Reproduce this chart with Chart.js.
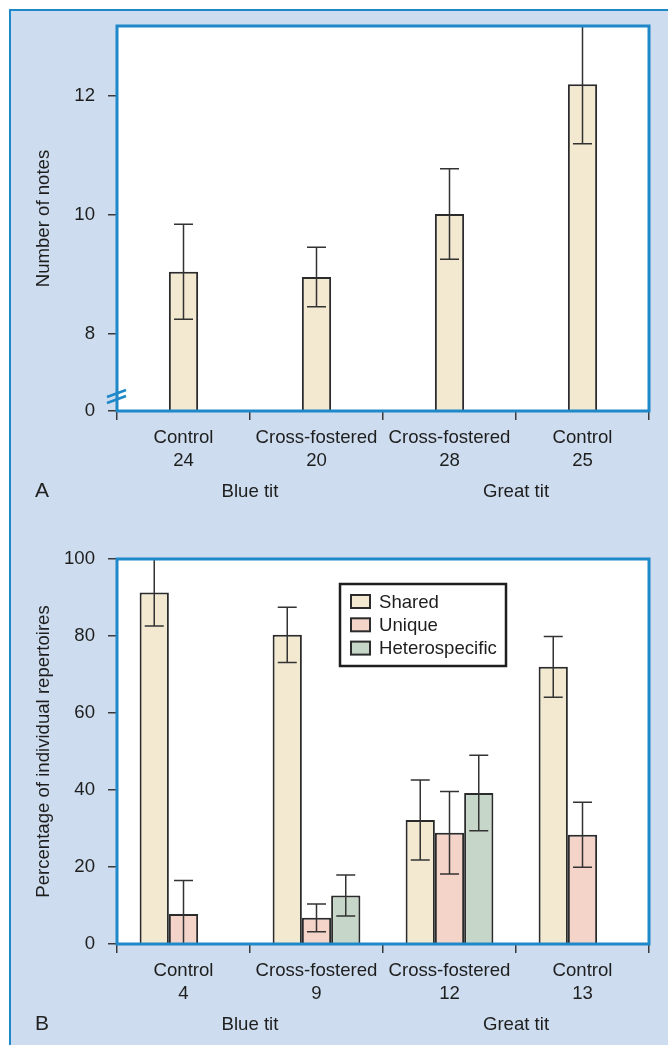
<!DOCTYPE html>
<html>
<head>
<meta charset="utf-8">
<script src="https://cdn.jsdelivr.net/npm/chart.js@4.4.0/dist/chart.umd.min.js"></script>
<style>
  html, body { margin: 0; padding: 0; background: #fff; }
  body { width: 668px; height: 1045px; position: relative; overflow: hidden; font-family: "Liberation Sans", Arial, sans-serif; }
  #panel { position: absolute; left: 9px; top: 9px; width: 700px; height: 1100px; background: #cddcee; border-left: 2px solid #1e88c8; border-top: 2px solid #1e88c8; }
  .wrap { position: absolute; left: 0; width: 668px; }
  #wrapA { top: 0; height: 520px; }
  #wrapB { top: 520px; height: 525px; }
  .letter { position: absolute; left: 35px; font-size: 21px; line-height: 21px; color: #222; }
</style>
</head>
<body>
<div id="panel"></div>
<div class="wrap" id="wrapA"><canvas id="chartA" width="668" height="520"></canvas></div>
<div class="wrap" id="wrapB"><canvas id="chartB" width="668" height="525"></canvas></div>
<div class="letter" style="top:479px">A</div>
<div class="letter" style="top:1012px">B</div>
<script>
// panel A: number of notes
var categoriesA = [['Control', '24'], ['Cross-fostered', '20'], ['Cross-fostered', '28'], ['Control', '25']];
var notesMean = [9.05, 8.96, 10.02, 12.2];
var notesErr = [0.8, 0.5, 0.76, 1.0];
var notesTicks = [8, 10, 12];
var notesBreakLabel = '0';
var notesAxisMin = 6.71;
var notesAxisMax = 13.18;

// panel B: percentage of repertoires
var categoriesB = [['Control', '4'], ['Cross-fostered', '9'], ['Cross-fostered', '12'], ['Control', '13']];
var seriesNames = ['Shared', 'Unique', 'Heterospecific'];
var sharedPct = [91.3, 80.3, 32.2, 72.0];
var sharedErr = [8.7, 7.2, 10.4, 7.9];
var uniquePct = [7.8, 6.8, 28.9, 28.4];
var uniqueErr = [8.7, 3.6, 10.7, 8.45];
var heteroPct = [null, 12.6, 39.2, null];
var heteroErr = [null, 5.3, 9.8, null];
var pctTicks = [0, 20, 40, 60, 80, 100];

var species = ['Blue tit', 'Great tit'];

var frameBlue = '#1e88c8';
var ink = '#1e1e1e';
var tickInk = '#3a3a3a';
var fills = ['#f2e9d0', '#f4d3c9', '#c6d7c9'];
var fontSize = 18.6;
var fontCss = fontSize + 'px "Liberation Sans", Arial, sans-serif';

Chart.defaults.font.family = '"Liberation Sans", Arial, sans-serif';
Chart.defaults.font.size = fontSize;
Chart.defaults.color = ink;

var deco = {
  id: 'deco',
  beforeDraw: function (chart) {
    var a = chart.chartArea, ctx = chart.ctx;
    ctx.save();
    ctx.fillStyle = '#ffffff';
    ctx.fillRect(a.left, a.top, a.right - a.left, a.bottom - a.top);
    ctx.restore();
  },
  afterDatasetsDraw: function (chart) {
    var ctx = chart.ctx, a = chart.chartArea, y = chart.scales.y;
    ctx.save();
    ctx.beginPath();
    ctx.rect(a.left, a.top, a.right - a.left, a.bottom - a.top);
    ctx.clip();
    ctx.strokeStyle = '#333333';
    ctx.lineWidth = 1.5;
    chart.data.datasets.forEach(function (ds, i) {
      chart.getDatasetMeta(i).data.forEach(function (bar, j) {
        var v = ds.data[j], e = ds.errors[j];
        if (v == null || e == null) return;
        var top = y.getPixelForValue(v + e), bot = y.getPixelForValue(v - e);
        ctx.beginPath();
        ctx.moveTo(bar.x, top); ctx.lineTo(bar.x, bot);
        ctx.moveTo(bar.x - 9.5, top); ctx.lineTo(bar.x + 9.5, top);
        ctx.moveTo(bar.x - 9.5, bot); ctx.lineTo(bar.x + 9.5, bot);
        ctx.stroke();
      });
    });
    ctx.restore();
  },
  afterDraw: function (chart, args, opts) {
    var ctx = chart.ctx, a = chart.chartArea, x = chart.scales.x;
    ctx.save();
    // plot frame
    ctx.strokeStyle = frameBlue;
    ctx.lineWidth = 3;
    ctx.strokeRect(a.left, a.top, a.right - a.left, a.bottom - a.top);

    // axis break marks
    if (opts.axisBreak) {
      ctx.lineWidth = 2.5;
      ctx.beginPath();
      ctx.moveTo(a.left - 10, a.bottom - 14); ctx.lineTo(a.left + 9, a.bottom - 21);
      ctx.moveTo(a.left - 10, a.bottom - 8); ctx.lineTo(a.left + 9, a.bottom - 15);
      ctx.stroke();
    }

    // species labels under pairs of categories
    ctx.fillStyle = ink;
    ctx.font = fontCss;
    ctx.textAlign = 'center';
    ctx.textBaseline = 'middle';
    species.forEach(function (s, i) {
      var cx = (x.getPixelForValue(2 * i) + x.getPixelForValue(2 * i + 1)) / 2;
      ctx.fillText(s, cx, a.bottom + 81);
    });

    // legend box
    if (opts.legend) {
      var bx = a.left + 223, by = a.top + 25, bw = 166, bh = 82;
      ctx.fillStyle = '#ffffff';
      ctx.fillRect(bx, by, bw, bh);
      ctx.strokeStyle = ink;
      ctx.lineWidth = 2.5;
      ctx.strokeRect(bx, by, bw, bh);
      ctx.textAlign = 'left';
      chart.data.datasets.forEach(function (ds, i) {
        var cy = by + 17.5 + i * 23.3;
        ctx.fillStyle = ds.backgroundColor;
        ctx.fillRect(bx + 11, cy - 6.5, 19, 13);
        ctx.lineWidth = 2;
        ctx.strokeStyle = '#2b2b2b';
        ctx.strokeRect(bx + 11, cy - 6.5, 19, 13);
        ctx.fillStyle = ink;
        ctx.fillText(ds.label, bx + 39, cy + 1);
      });
    }
    ctx.restore();
  }
};

function xScale(height) {
  return {
    afterFit: function (s) { s.height = height; },
    ticks: { padding: 7, maxRotation: 0, autoSkip: false, color: ink },
    grid: { drawOnChartArea: false, offset: true, tickLength: 9, color: tickInk, lineWidth: 1.5 },
    border: { display: false }
  };
}

function yGrid() {
  return { drawOnChartArea: false, tickLength: 9, color: tickInk, lineWidth: 1.5 };
}

new Chart(document.getElementById('chartA'), {
  type: 'bar',
  data: {
    labels: categoriesA,
    datasets: [{
      label: 'Number of notes',
      data: notesMean,
      errors: notesErr,
      backgroundColor: fills[0],
      borderColor: '#2b2b2b',
      borderWidth: 2
    }]
  },
  options: {
    responsive: false,
    animation: false,
    categoryPercentage: 0.22,
    barPercentage: 1,
    layout: { padding: { left: 0, top: 26, right: 19, bottom: 0 } },
    plugins: { legend: { display: false }, tooltip: { enabled: false }, deco: { axisBreak: true, legend: false } },
    scales: {
      x: xScale(109),
      y: {
        min: notesAxisMin,
        max: notesAxisMax,
        afterFit: function (s) { s.width = 117; },
        afterBuildTicks: function (s) {
          s.ticks = [notesAxisMin].concat(notesTicks).map(function (v) { return { value: v }; });
        },
        ticks: {
          padding: 13,
          color: ink,
          callback: function (v) { return v === notesAxisMin ? notesBreakLabel : String(v); }
        },
        grid: yGrid(),
        border: { display: false },
        title: { display: true, text: 'Number of notes', color: ink, padding: { top: 33, bottom: 0 } }
      }
    }
  },
  plugins: [deco]
});

new Chart(document.getElementById('chartB'), {
  type: 'bar',
  data: {
    labels: categoriesB,
    datasets: [
      { label: seriesNames[0], data: sharedPct, errors: sharedErr, backgroundColor: fills[0], borderColor: '#2b2b2b', borderWidth: 2 },
      { label: seriesNames[1], data: uniquePct, errors: uniqueErr, backgroundColor: fills[1], borderColor: '#2b2b2b', borderWidth: 2 },
      { label: seriesNames[2], data: heteroPct, errors: heteroErr, backgroundColor: fills[2], borderColor: '#2b2b2b', borderWidth: 2 }
    ]
  },
  options: {
    responsive: false,
    animation: false,
    categoryPercentage: 0.66,
    barPercentage: 1,
    layout: { padding: { left: 0, top: 39, right: 19, bottom: 0 } },
    plugins: { legend: { display: false }, tooltip: { enabled: false }, deco: { axisBreak: false, legend: true } },
    scales: {
      x: xScale(101),
      y: {
        min: 0,
        max: 100,
        afterFit: function (s) { s.width = 117; },
        afterBuildTicks: function (s) {
          s.ticks = pctTicks.map(function (v) { return { value: v }; });
        },
        ticks: { padding: 13, color: ink },
        grid: yGrid(),
        border: { display: false },
        title: { display: true, text: 'Percentage of individual repertoires', color: ink, padding: { top: 33, bottom: 0 } }
      }
    }
  },
  plugins: [deco]
});
</script>
</body>
</html>
